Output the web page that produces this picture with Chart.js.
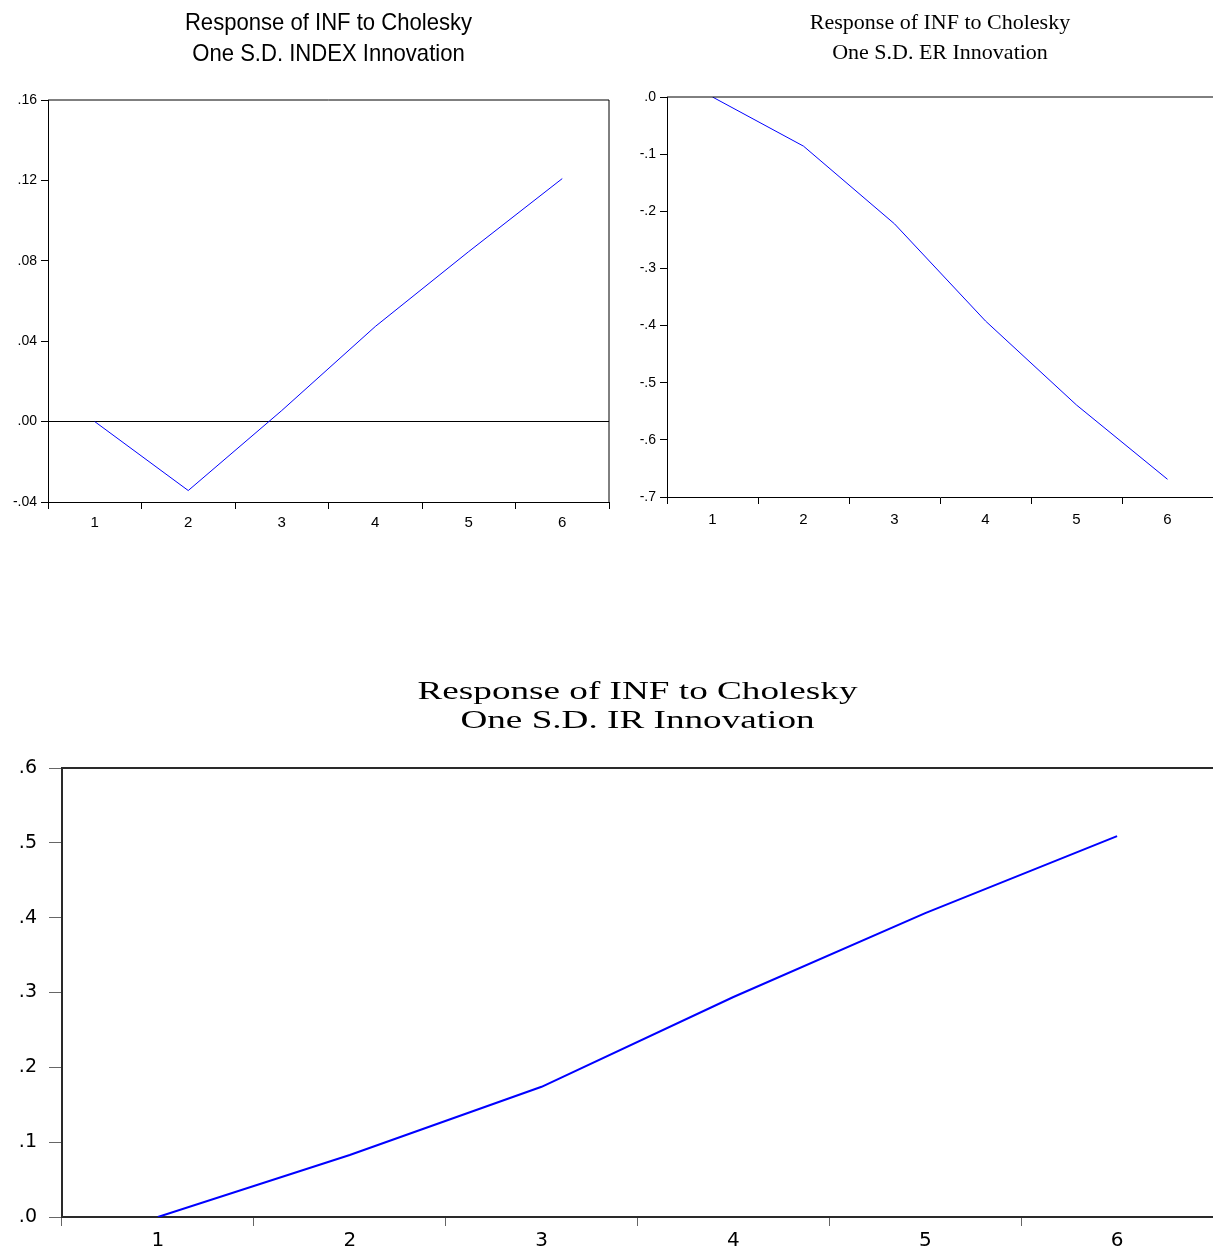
<!DOCTYPE html>
<html>
<head>
<meta charset="utf-8">
<script src="https://cdn.jsdelivr.net/npm/chart.js@4.4.1/dist/chart.umd.min.js"></script>
<style>
  html, body { margin: 0; padding: 0; background: #fff; }
  body { width: 1213px; height: 1252px; position: relative; overflow: hidden; }
  .box { position: absolute; }
</style>
</head>
<body>
<div class="box" style="left:0;top:0;width:620px;height:545px;"><canvas id="cA"></canvas></div>
<div class="box" style="left:600px;top:0;width:613px;height:545px;"><canvas id="cB"></canvas></div>
<div class="box" style="left:0;top:640px;width:1213px;height:612px;"><canvas id="cC"></canvas></div>
<script>
// ---- data ----
const periods = ['1', '2', '3', '4', '5', '6'];

const titleIndex = ['Response of INF to Cholesky', 'One S.D. INDEX Innovation'];
const respIndex = [0.0, -0.0343, 0.0055, 0.0473, 0.0846, 0.1209];
const yTicksIndex = ['-.04', '.00', '.04', '.08', '.12', '.16'];

const titleER = ['Response of INF to Cholesky', 'One S.D. ER Innovation'];
const respER = [0.0, -0.086, -0.222, -0.392, -0.539, -0.669];
const yTicksER = ['-.7', '-.6', '-.5', '-.4', '-.3', '-.2', '-.1', '.0'];

const titleIR = ['Response of INF to Cholesky', 'One S.D. IR Innovation'];
const respIR = [0.0, 0.0829, 0.174, 0.294, 0.406, 0.509];
const yTicksIR = ['.0', '.1', '.2', '.3', '.4', '.5', '.6'];

// ---- plugins ----
const titlePlugin = {
  id: 'stTitle',
  afterDraw(chart, args, o) {
    if (!o || !o.lines) return;
    const { ctx, chartArea } = chart;
    const cx = (chartArea.left + chartArea.right) / 2 + (o.dx || 0);
    ctx.save();
    ctx.fillStyle = '#000';
    ctx.font = o.font;
    ctx.textAlign = 'center';
    ctx.textBaseline = 'alphabetic';
    o.lines.forEach((t, i) => {
      ctx.save();
      ctx.translate(cx, o.y[i]);
      ctx.scale(o.sx || 1, 1);
      ctx.fillText(t, 0, 0);
      ctx.restore();
    });
    ctx.restore();
  }
};
const framePlugin = {
  id: 'frame',
  afterDatasetsDraw(chart, args, o) {
    if (!o || !o.color) return;
    const { ctx, chartArea: a } = chart;
    ctx.save();
    ctx.strokeStyle = o.color;
    ctx.lineWidth = o.width;
    ctx.beginPath();
    ctx.moveTo(a.left, a.top);
    ctx.lineTo(a.right, a.top);
    if (o.right) ctx.lineTo(a.right, a.bottom);
    ctx.stroke();
    ctx.restore();
  }
};
Chart.register(titlePlugin, framePlugin);

function makeChart(id, cfg) {
  return new Chart(document.getElementById(id), {
    type: 'line',
    data: {
      labels: periods,
      datasets: [{
        data: cfg.values,
        borderColor: '#0000ff',
        borderWidth: cfg.lineWidth,
        pointRadius: 0,
        tension: 0,
        fill: false
      }]
    },
    options: {
      responsive: true,
      maintainAspectRatio: false,
      animation: false,
      events: [],
      layout: { padding: cfg.padding },
      plugins: {
        legend: { display: false },
        tooltip: { enabled: false },
        title: { display: false },
        stTitle: cfg.title,
        frame: { color: cfg.axisColor, width: cfg.axisWidth, right: cfg.rightBorder }
      },
      scales: {
        x: {
          type: 'category',
          offset: true,
          afterFit(s) { s.height = cfg.xHeight; },
          grid: {
            offset: true,
            drawOnChartArea: false,
            drawTicks: true,
            tickLength: cfg.xTickLen,
            tickColor: cfg.tickColor,
            tickWidth: 1
          },
          border: { display: true, color: cfg.axisColor, width: cfg.axisWidth },
          ticks: {
            color: '#000',
            font: cfg.xFont,
            padding: cfg.xPad,
            maxRotation: 0,
            autoSkip: false
          }
        },
        y: {
          min: cfg.min,
          max: cfg.max,
          afterFit(s) { s.width = cfg.yWidth; },
          afterBuildTicks(s) {
            s.ticks = cfg.yLabels.map((_, i) => ({ value: +(cfg.min + i * cfg.step).toFixed(6) }));
          },
          grid: {
            drawOnChartArea: cfg.zeroLine,
            color: (c) => (cfg.zeroLine && c.tick && Math.abs(c.tick.value) < 1e-9) ? '#000' : 'rgba(0,0,0,0)',
            lineWidth: 1,
            drawTicks: true,
            tickLength: cfg.yTickLen,
            tickColor: cfg.tickColor,
            tickWidth: 1
          },
          border: { display: true, color: cfg.axisColor, width: cfg.axisWidth },
          ticks: {
            color: '#000',
            font: cfg.yFont,
            padding: cfg.yPad,
            callback: (v, i) => cfg.yLabels[i]
          }
        }
      }
    }
  });
}

makeChart('cA', {
  values: respIndex, yLabels: yTicksIndex, min: -0.04, max: 0.16, step: 0.04,
  padding: { top: 100, right: 11, left: 0, bottom: 0 },
  yWidth: 48, xHeight: 43, zeroLine: true, lineWidth: 1, rightBorder: true,
  axisColor: '#000', axisWidth: 1, tickColor: '#000',
  xTickLen: 7, yTickLen: 7, xPad: 5, yPad: 4,
  yFont: { family: "'Liberation Sans', Arial, sans-serif", size: 14 },
  xFont: { family: "'Liberation Sans', Arial, sans-serif", size: 15 },
  title: { lines: titleIndex, y: [30, 61], font: "24px 'Liberation Sans Narrow', 'Arial Narrow', 'Liberation Sans', sans-serif", sx: 0.92 }
});

makeChart('cB', {
  values: respER, yLabels: yTicksER, min: -0.7, max: 0.0, step: 0.1,
  padding: { top: 97, right: 0, left: 0, bottom: 0 },
  yWidth: 67, xHeight: 48, zeroLine: false, lineWidth: 1, rightBorder: false,
  axisColor: '#000', axisWidth: 1, tickColor: '#000',
  xTickLen: 7, yTickLen: 7, xPad: 7, yPad: 4,
  yFont: { family: "'Liberation Sans', Arial, sans-serif", size: 14 },
  xFont: { family: "'Liberation Sans', Arial, sans-serif", size: 15 },
  title: { lines: titleER, y: [29, 59], font: "22px 'Liberation Serif', 'Times New Roman', serif", sx: 1.0 }
});

makeChart('cC', {
  values: respIR, yLabels: yTicksIR, min: 0.0, max: 0.6, step: 0.1,
  padding: { top: 128, right: 0, left: 0, bottom: 0 },
  yWidth: 62, xHeight: 35, zeroLine: false, lineWidth: 2, rightBorder: false,
  axisColor: '#2a2a2a', axisWidth: 2, tickColor: '#666',
  xTickLen: 9, yTickLen: 13, xPad: 3, yPad: 12,
  yFont: { family: "'DejaVu Sans', 'Liberation Sans', sans-serif", size: 19 },
  xFont: { family: "'DejaVu Sans', 'Liberation Sans', sans-serif", size: 20 },
  title: { lines: titleIR, y: [59, 88], font: "26px 'Liberation Serif', 'Times New Roman', serif", sx: 1.43 }
});
</script>
</body>
</html>
